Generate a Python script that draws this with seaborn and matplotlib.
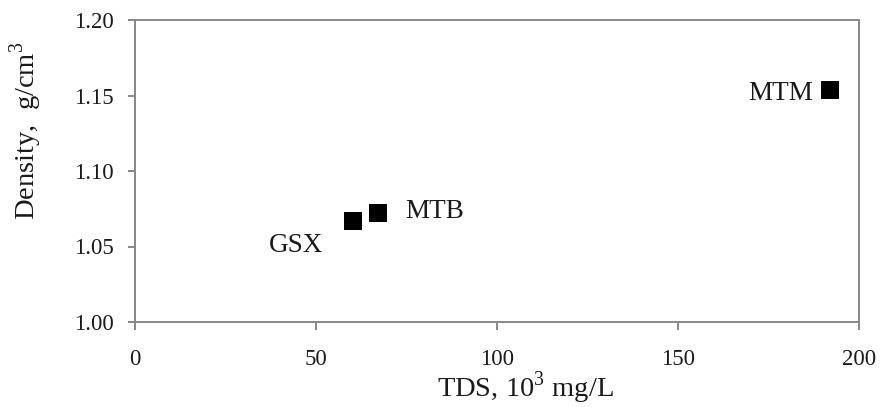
import matplotlib
matplotlib.use("Agg")
import matplotlib.pyplot as plt
import seaborn as sns
import pandas as pd

names = ["GSX", "MTB", "MTM"]
tds = [60.1, 67.1, 191.9]
density = [1.0666, 1.0722, 1.1536]

xticks = [0, 50, 100, 150, 200]
yticks = [1.00, 1.05, 1.10, 1.15, 1.20]

sns.set_theme(style="white")
plt.rcParams['font.family'] = ['Liberation Serif', 'DejaVu Serif']
plt.rcParams['mathtext.fontset'] = 'custom'
plt.rcParams['mathtext.rm'] = 'Liberation Serif'

df = pd.DataFrame({"name": names, "tds": tds, "density": density})

fig = plt.figure(figsize=(8.81, 4.07), dpi=100)
ax = fig.add_axes([135/881, 1 - 322/407, (859-135)/881, (322-20)/407])
sns.scatterplot(data=df, x="tds", y="density", marker="s", s=185, color="black",
                edgecolor="black", linewidth=0, ax=ax, zorder=3)

# label placement (offset in points, horizontal alignment)
label_style = {"GSX": ((-21, -17), "right"),
               "MTB": ((20, 1.4), "left"),
               "MTM": ((-12, -2.2), "right")}
for n, x, y in zip(names, tds, density):
    off, ha = label_style[n]
    ax.annotate(n, (x, y), xytext=off, textcoords="offset points",
                ha=ha, va="center", fontsize=19.5, color="#1a1a1a")

ax.set_xlim(0, 200)
ax.set_ylim(1.00, 1.20)
ax.set_xticks(xticks)
ax.set_xticklabels([str(t) for t in xticks])
ax.set_yticks(yticks)
ax.set_yticklabels([f"{t:.2f}" for t in yticks])
gray = "#878787"
for sp in ax.spines.values():
    sp.set_color(gray)
    sp.set_linewidth(1.4)
    sp.set_visible(True)
ax.tick_params(axis="both", direction="out", length=5.4, width=1.4, color=gray,
               labelsize=16.5, labelcolor="#1a1a1a", bottom=True, left=True)
ax.tick_params(axis="x", pad=14)
ax.tick_params(axis="y", pad=10)
ax.set_xlabel("TDS, 10$^3$ mg/L", fontsize=20.5, color="#1a1a1a")
ax.set_ylabel("Density,  g/cm$^3$", fontsize=20.5, color="#1a1a1a")
ax.xaxis.set_label_coords((525-135)/724, -(388-322)/302)
ax.xaxis.label.set_va("center")
ax.yaxis.set_label_coords((26-135)/724, (322-131)/302)
ax.yaxis.label.set_va("center")
ax.grid(False)

fig.savefig("out.png", dpi=100)
